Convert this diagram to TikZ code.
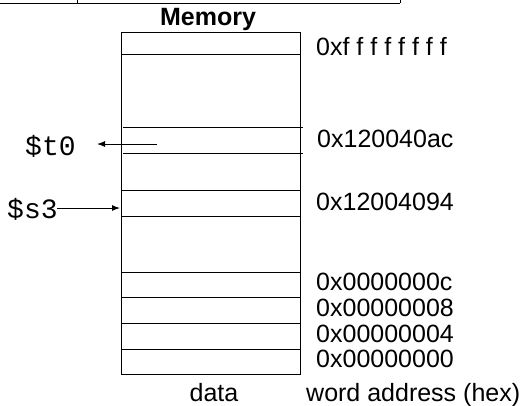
\documentclass[tikz,border=0pt]{standalone}
\usetikzlibrary{arrows.meta}
\usepackage{fontspec}
\setmainfont{Liberation Sans}
\newfontfamily\monofont{Liberation Mono}
\begin{document}
\begin{tikzpicture}[x=1pt,y=-1pt,
  lbl/.style={inner sep=0pt,anchor=base west,font=\fontsize{25}{30}\selectfont},
  reg/.style={inner sep=0pt,anchor=base west,font=\monofont\fontsize{28}{32}\selectfont},
  ln/.style={line width=1pt},
  arr/.style={line width=1pt,-{Latex[length=8pt,width=6pt]}}]
\useasboundingbox (0,0) rectangle (529,405);
% table fragment at top
\draw[ln] (0,3) -- (400,3);
\draw[ln] (77,0) -- (77,3);
\draw[ln] (400,0) -- (400,3);
% memory box
\node[inner sep=0pt,anchor=base,font=\bfseries\fontsize{25}{30}\selectfont] (title) at (208,25) {Memory};
\draw[ln] (121,32) rectangle (300,374);
\draw[ln] (121,54) -- (300,54);
\draw[ln] (123,127) -- (303,127);
\draw[ln] (123,153) -- (303,153);
\draw[ln] (121,190) -- (300,190);
\draw[ln] (121,216) -- (300,216);
\draw[ln] (121,272) -- (300,272);
\draw[ln] (121,297) -- (300,297);
\draw[ln] (121,323) -- (300,323);
\draw[ln] (121,349) -- (300,349);
% addresses
\node[lbl] (aff) at (316,55) {0xf f f f f f f f};
\node[lbl] (aac) at (317,147) {0x120040ac};
\node[lbl] (a94) at (316,210) {0x12004094};
\node[lbl] (a0c) at (316,290) {0x0000000c};
\node[lbl] (a08) at (316,316) {0x00000008};
\node[lbl] (a04) at (316,342) {0x00000004};
\node[lbl] (a00) at (316,367) {0x00000000};
\node[lbl,anchor=base] (data) at (214,401) {data};
\node[lbl] (wa) at (306,401) {word address (hex)};
% registers
\node[reg] (t0) at (25,155) {\$t0};
\node[reg] (s3) at (7,218) {\$s3};
\coordinate (t0src) at (157,144);
\coordinate (t0tip) at (97,144);
\coordinate (s3dst) at (120,208);
\coordinate (s3src) at (57,208);
\draw[arr] (t0src) -- (t0tip);
\draw[arr] (s3src) -- (s3dst);
\end{tikzpicture}
\end{document}
